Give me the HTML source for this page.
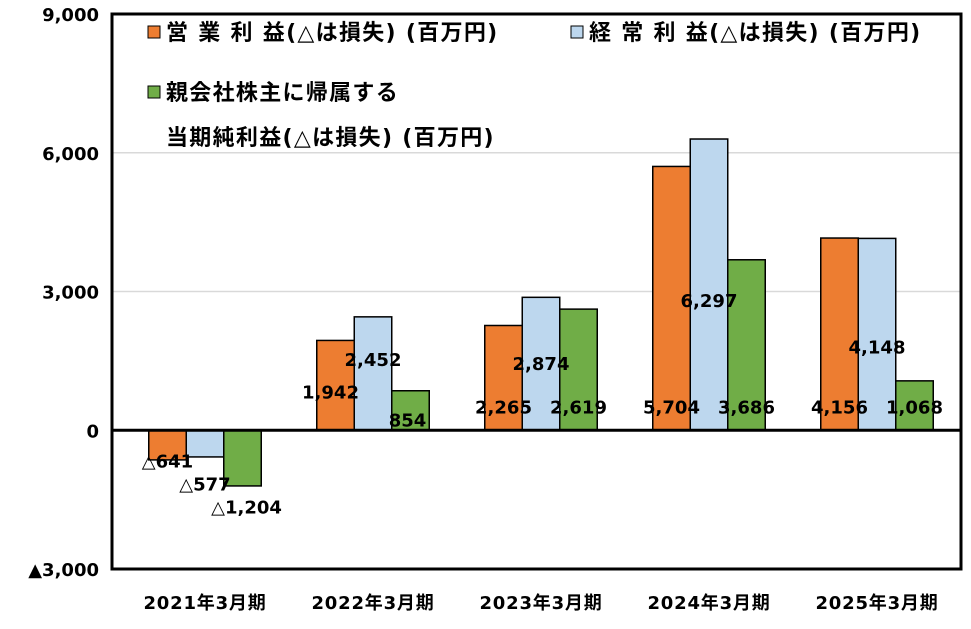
<!DOCTYPE html>
<html><head><meta charset="utf-8"><style>
body{margin:0;background:#fff}
text{font-family:"DejaVu Sans","Noto Sans CJK JP",sans-serif;font-weight:bold}
</style></head><body>
<svg id="c" width="971" height="624" xmlns="http://www.w3.org/2000/svg"></svg>
<script>
const categories=["2021年3月期","2022年3月期","2023年3月期","2024年3月期","2025年3月期"];
const operating=[-641,1942,2265,5704,4156];
const ordinary=[-577,2452,2874,6297,4148];
const netIncome=[-1204,854,2619,3686,1068];
const yTicks=[-3000,0,3000,6000,9000];
const yTickLabels=["▲3,000","0","3,000","6,000","9,000"];
const series=[
 {name:"operating",data:operating,color:"#ED7D31"},
 {name:"ordinary",data:ordinary,color:"#BDD7EE"},
 {name:"net-income",data:netIncome,color:"#70AD47"}];
const svg=document.getElementById('c');const NS="http://www.w3.org/2000/svg";
function mk(t,a,p){const e=document.createElementNS(NS,t);for(const k in a)e.setAttribute(k,a[k]);(p||svg).appendChild(e);return e;}
const L=121,R=961,T=14,B=569,yMin=-3000,yMax=9000;
const y=v=>B-(v-yMin)/(yMax-yMin)*(B-T);
const bw=(R-L)/categories.length;const barW=37.5;
const x=i=>L+bw*(i+0.5);
yTicks.forEach((t,i)=>{
 if(t!==0&&t!==yMin&&t!==yMax){const g=mk('line',{x1:112,x2:R,y1:y(t),y2:y(t),stroke:'#d9d9d9','stroke-width':1.5});
 }
 const tx=mk('text',{x:99,y:y(t)+7,'text-anchor':'end','font-size':18});tx.textContent=yTickLabels[i];
 
});
const fmt=v=>(v<0?"△":"")+Math.abs(v).toLocaleString('en-US');
series.forEach((s,si)=>{
 s.data.forEach((v,i)=>{
  const bx=x(i)+(si-1.5)*barW;
  const r=mk('rect',{x:bx,y:Math.min(y(v),y(0)),width:barW,height:Math.abs(y(v)-y(0)),fill:s.color,stroke:'#000','stroke-width':1.5});
  
 });
});
series.forEach((s,si)=>{
 s.data.forEach((v,i)=>{
  let lx=x(i)+(si-1)*barW, ly;
  if(v<0){ly=y(0)+30+si*23;if(si===2)lx+=4;}
  else{ly=y(0)-24;
   if(si===1){ly=y(v*0.55)+6;if(i===1)ly=y(v*0.75)+14;if(i===3)ly=y(v*0.45)+1;if(i===4)ly=y(v*0.5)+12;}
   if(si===0&&i===1){ly=y(v*0.5)+6;lx-=5;}
   if(si===2&&i===1){ly=y(v*0.5)+9;lx-=3;}}
  const t=mk('text',{x:lx,y:ly+7,'text-anchor':'middle','font-size':18});t.textContent=fmt(v);
  
 });
});
const f=mk('rect',{x:112,y:T,width:R-112,height:B-T,fill:'none',stroke:'#000','stroke-width':3});

const z=mk('line',{x1:112,x2:R,y1:y(0),y2:y(0),stroke:'#000','stroke-width':3});

categories.forEach((c,i)=>{const t=mk('text',{x:x(i),y:609,'text-anchor':'middle','font-size':18,'letter-spacing':0.8});t.textContent=c;
 });
const leg=[[148,26,"#ED7D31","営 業 利 益(△は損失) (百万円)"],[571,26,"#BDD7EE","経 常 利 益(△は損失) (百万円)"],[148,86,"#70AD47","親会社株主に帰属する"]];
leg.forEach(l=>{const r=mk('rect',{x:l[0],y:l[1],width:12,height:12,fill:l[2],stroke:'#000','stroke-width':1});
 
 const t=mk('text',{x:l[0]+18,y:l[1]+14,'font-size':22,'letter-spacing':1.3});t.textContent=l[3];
 });
const t2=mk('text',{x:166,y:145,'font-size':22,'letter-spacing':1.3});t2.textContent="当期純利益(△は損失) (百万円)";

</script></body></html>
